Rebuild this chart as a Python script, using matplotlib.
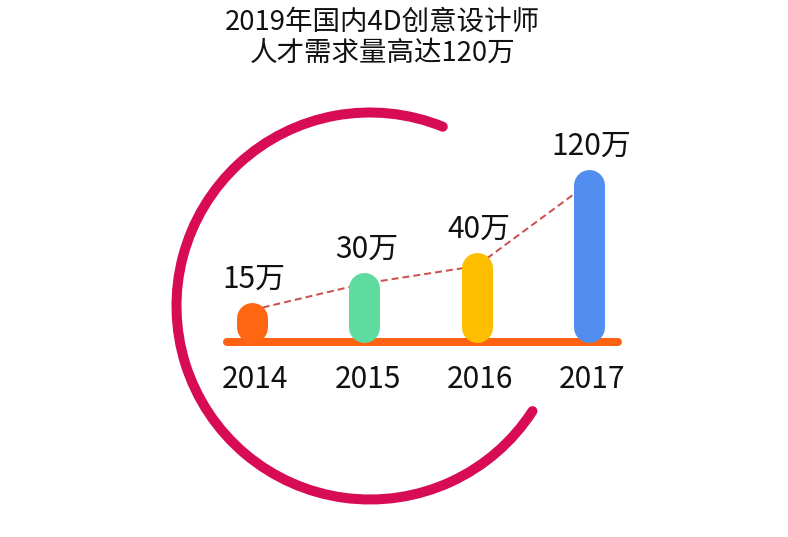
import matplotlib
matplotlib.use("Agg")
import matplotlib.pyplot as plt
from matplotlib.patches import Arc

plt.rcParams['font.family'] = ['Noto Sans CJK SC', 'DejaVu Sans']

# ---- data ----
title_lines = ["2019年国内4D创意设计师", "人才需求量高达120万"]
years = ["2014", "2015", "2016", "2017"]
values = [15, 30, 40, 120]
value_labels = ["15万", "30万", "40万", "120万"]
bar_heights = [40, 70, 90, 173]          # drawn bar heights
trend_values = [32, 58.5, 76, 159]       # dashed trend line points
bar_colors = ["#FF6613", "#5EDCA0", "#FDBE00", "#528DF0"]

W, H, DPI = 788, 537, 100
fig = plt.figure(figsize=(W / DPI, H / DPI), dpi=DPI)
px = 72.0 / DPI  # points per pixel

# decorative ring (figure-pixel axes)
axr = fig.add_axes([0, 0, 1, 1])
axr.set_xlim(0, W)
axr.set_ylim(0, H)
axr.axis('off')
ring = Arc((370, H - 306), 387, 387, theta1=67.9, theta2=327.1,
           color="#D80C55", lw=10 * px, capstyle='round')
axr.add_patch(ring)

# bar axes: x = category index, y = pixel-sized units
ax = fig.add_axes([83.5 / W, 45 / H, 674 / W, 400 / H])
ax.set_xlim(-1.5, 4.5)
ax.set_ylim(-150, 250)
ax.axis('off')

xs = list(range(len(years)))
bar_w = 31
ax.hlines(0, -0.225, 3.258, color="#FF6213", lw=8 * px, capstyle='round', zorder=1)
ax.plot(xs, trend_values, color="#CD5050", lw=2 * px, ls=(0, (3.5, 2)), zorder=2)
for x, h, c, lab, yr in zip(xs, bar_heights, bar_colors, value_labels, years):
    ax.plot([x, x], [bar_w / 2, h - bar_w / 2], color=c, lw=bar_w * px,
            solid_capstyle='round', zorder=3)
    ax.text(x + 0.02, h + 14, lab, ha='center', va='baseline', fontsize=21.5, color='#111111')
    ax.text(x + 0.03, -46, yr, ha='center', va='baseline', fontsize=21.5, color='#111111')

fig.text(382 / W, 1 - 30 / H, title_lines[0], ha='center', va='baseline', fontsize=19.8, color='#111111')
fig.text(383 / W, 1 - 61 / H, title_lines[1], ha='center', va='baseline', fontsize=19.8, color='#111111')

fig.savefig("out.png", dpi=DPI, facecolor='white')
